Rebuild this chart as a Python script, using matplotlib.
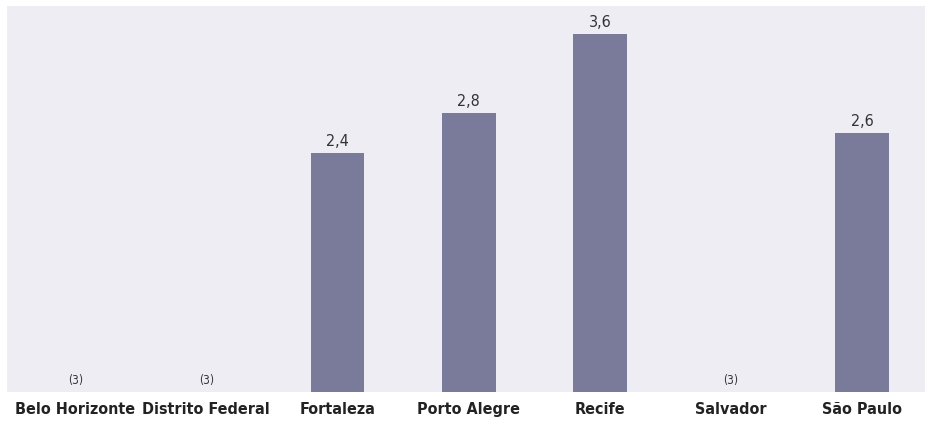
import matplotlib.pyplot as plt

cidades = ["Belo Horizonte", "Distrito Federal", "Fortaleza", "Porto Alegre",
           "Recife", "Salvador", "São Paulo"]
valores = [None, None, 2.4, 2.8, 3.6, None, 2.6]
rotulos = ["(3)", "(3)", "2,4", "2,8", "3,6", "(3)", "2,6"]

fig = plt.figure(figsize=(9.25, 4.23), dpi=100)
ax = fig.add_axes([7 / 925, 31 / 423, 918 / 925, 386 / 423])
ax.set_facecolor("#efedf4")

x = list(range(len(cidades)))
alturas = [v if v is not None else 0 for v in valores]
ax.bar(x, alturas, width=0.41, color="#7a7b9b")

for i, (v, r) in enumerate(zip(valores, rotulos)):
    if v is None:
        ax.text(i, 0.05, r, ha="center", va="bottom", fontsize=8.5,
                fontstretch="condensed", color="#333333")
    else:
        ax.text(i, v + 0.04, r, ha="center", va="bottom", fontsize=11.5,
                fontstretch="condensed", color="#333333")

ax.set_xlim(-0.52, 6.48)
ax.set_ylim(0, 3.88)
ax.set_yticks([])
ax.set_xticks(x)
ax.set_xticklabels(cidades, fontsize=11.5, fontweight="bold",
                   fontstretch="condensed", color="#222222")
ax.tick_params(axis="x", length=0, pad=7)
for s in ax.spines.values():
    s.set_visible(False)

fig.savefig("out.png", dpi=100)
